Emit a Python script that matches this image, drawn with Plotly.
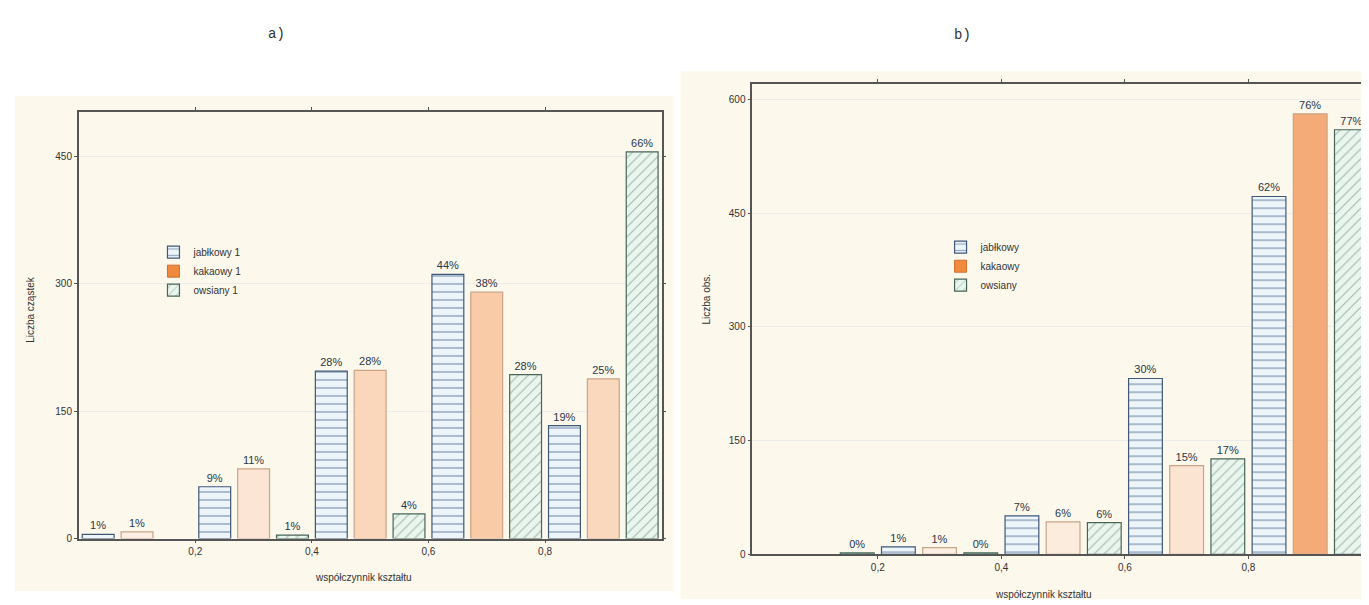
import plotly.graph_objects as go

# ---------------- data ----------------
bins = [0.1, 0.3, 0.5, 0.7, 0.9]          # bin centres of the shape factor (width 0.2)
tick_vals = [0.2, 0.4, 0.6, 0.8]
tick_text = ["0,2", "0,4", "0,6", "0,8"]

# panel a) - number of particles
a_jablkowy = [5, 61, 197, 311, 133]
a_kakaowy = [8, 82, 198, 290, 188]
a_owsiany = [None, 4, 29, 193, 455]
a_jablkowy_lbl = ["1%", "9%", "28%", "44%", "19%"]
a_kakaowy_lbl = ["1%", "11%", "28%", "38%", "25%"]
a_owsiany_lbl = ["", "1%", "4%", "28%", "66%"]

# panel b) - number of observations
b_jablkowy = [None, 10, 51, 232, 472]
b_kakaowy = [None, 9, 43, 117, 581]
b_owsiany = [2, 2, 42, 126, 560]
b_jablkowy_lbl = ["", "1%", "7%", "30%", "62%"]
b_kakaowy_lbl = ["", "1%", "6%", "15%", "76%"]
b_owsiany_lbl = ["0%", "0%", "6%", "17%", "77%"]

names_a = ["jabłkowy 1", "kakaowy 1", "owsiany 1"]
names_b = ["jabłkowy", "kakaowy", "owsiany"]

# ---------------- layout helpers ----------------
OFF = 8                      # default body margin of the page
W, H = 1369 - OFF, 605 - OFF


def px(x):
    return (x - OFF) / W


def py(y):
    return 1 - (y - OFF) / H


BLUE_LINE = "#3f5878"
GREEN_LINE = "#46665a"
ORANGE_LINE = "#c9a489"
KAK_SCALE = [[0.0, "#fdf0e6"], [0.45, "#f8c49c"], [1.0, "#ee7422"]]
TXT = dict(family="Liberation Sans, Arial, sans-serif", size=10, color="#333333")
LBL = dict(family="Liberation Sans, Arial, sans-serif", size=11, color="#2b3648")

fig = go.Figure()


def add_panel(fig, xa, ya, jab, kak, ows, jl, kl, ol, names, legend, ymax):
    fig.add_trace(go.Bar(
        x=bins, y=jab, name=names[0], text=jl, textposition="outside",
        textfont=LBL, cliponaxis=False, xaxis=xa, yaxis=ya, legend=legend,
        marker=dict(color="#edf5fb",
                    line=dict(color=BLUE_LINE, width=1.2),
                    pattern=dict(shape="-", fgcolor="#34527e", bgcolor="#edf5fb",
                                 size=8, solidity=0.18)),
        hoverinfo="x+y"))
    fig.add_trace(go.Bar(
        x=bins, y=kak, name=names[1], text=kl, textposition="outside",
        textfont=LBL, cliponaxis=False, xaxis=xa, yaxis=ya, legend=legend,
        showlegend=False,
        marker=dict(color=[0 if v is None else v * 0.66 for v in kak],
                    colorscale=KAK_SCALE, cmin=0, cmax=ymax,
                    line=dict(color=ORANGE_LINE, width=1.2)),
        hoverinfo="x+y"))
    # legend entry with a solid orange swatch (on a hidden axis pair)
    fig.add_trace(go.Bar(
        x=[0], y=[0], name=names[1], xaxis="x3", yaxis="y3", legend=legend,
        marker=dict(color="#f08a3c", line=dict(color="#d07030", width=1)),
        showlegend=True, hoverinfo="skip"))
    fig.add_trace(go.Bar(
        x=bins, y=ows, name=names[2], text=ol, textposition="outside",
        textfont=LBL, cliponaxis=False, xaxis=xa, yaxis=ya, legend=legend,
        marker=dict(color="#eaf5ee",
                    line=dict(color=GREEN_LINE, width=1.2),
                    pattern=dict(shape="/", fgcolor="#4f7a66", bgcolor="#eaf5ee",
                                 size=7, solidity=0.15)),
        hoverinfo="x+y"))


add_panel(fig, "x", "y", a_jablkowy, a_kakaowy, a_owsiany,
          a_jablkowy_lbl, a_kakaowy_lbl, a_owsiany_lbl, names_a, "legend", 502)
add_panel(fig, "x2", "y2", b_jablkowy, b_kakaowy, b_owsiany,
          b_jablkowy_lbl, b_kakaowy_lbl, b_owsiany_lbl, names_b, "legend2", 620)

axis_common = dict(showline=True, linecolor="#555555", linewidth=1.5, mirror="ticks",
                   ticks="outside", ticklen=3, tickcolor="#555555",
                   tickfont=TXT, zeroline=False)

mono = dict(family="Liberation Mono, DejaVu Sans Mono, monospace", size=14, color="#333")

fig.update_layout(
    width=W, height=H,
    margin=dict(l=0, r=0, t=0, b=0),
    paper_bgcolor="white", plot_bgcolor="white",
    barmode="group", bargap=0.0, bargroupgap=0.18,
    showlegend=True,
    xaxis=dict(domain=[px(79), px(664)], range=[0, 1], tickvals=tick_vals,
               ticktext=tick_text, showgrid=False, anchor="y", **axis_common),
    yaxis=dict(domain=[py(544), py(113)], range=[0, 502],
               tickvals=[0, 150, 300, 450], showgrid=True, gridcolor="#ececec",
               anchor="x", **axis_common),
    xaxis2=dict(domain=[px(755), 1.0], range=[-2 / 620, 612 / 620], tickvals=tick_vals,
                ticktext=tick_text, showgrid=False, anchor="y2", **axis_common),
    yaxis2=dict(domain=[py(560), py(85)], range=[0, 620],
                tickvals=[0, 150, 300, 450, 600], showgrid=True, gridcolor="#ececec",
                anchor="x2", **axis_common),
    xaxis3=dict(domain=[0, 0.001], visible=False, anchor="y3", range=[10, 11]),
    yaxis3=dict(domain=[0, 0.001], visible=False, anchor="x3", range=[10, 11]),
    legend=dict(x=px(154), y=py(240), xanchor="left", yanchor="top",
                bgcolor="rgba(255,255,255,0)", font=TXT, tracegroupgap=0,
                traceorder="normal"),
    legend2=dict(x=px(944), y=py(235), xanchor="left", yanchor="top",
                 bgcolor="rgba(255,255,255,0)", font=TXT, tracegroupgap=0,
                 traceorder="normal"),
    shapes=[
        dict(type="rect", xref="paper", yref="paper", layer="below",
             x0=px(15), x1=px(676), y0=py(597), y1=py(97),
             fillcolor="#fcf8ec", line=dict(width=0)),
        dict(type="rect", xref="paper", yref="paper", layer="below",
             x0=px(683), x1=1.0, y0=0, y1=py(72),
             fillcolor="#fcf8ec", line=dict(width=0)),
    ],
    annotations=[
        dict(text="a)", x=px(277), y=py(34), xanchor="center", yanchor="middle",
             xref="paper", yref="paper", showarrow=False, font=mono),
        dict(text="b)", x=px(966), y=py(35), xanchor="center", yanchor="middle",
             xref="paper", yref="paper", showarrow=False, font=mono),
        dict(text="współczynnik kształtu", x=px(365), y=py(583), xanchor="center",
             yanchor="middle", xref="paper", yref="paper", showarrow=False, font=TXT),
        dict(text="współczynnik kształtu", x=px(1047), y=py(600), xanchor="center",
             yanchor="middle", xref="paper", yref="paper", showarrow=False, font=TXT),
        dict(text="Liczba cząstek", x=px(31), y=py(312), xanchor="center",
             yanchor="middle", xref="paper", yref="paper", showarrow=False,
             textangle=-90, font=TXT),
        dict(text="Liczba obs.", x=px(709), y=py(302), xanchor="center",
             yanchor="middle", xref="paper", yref="paper", showarrow=False,
             textangle=-90, font=TXT),
    ],
)

fig.write_html("out.html")
